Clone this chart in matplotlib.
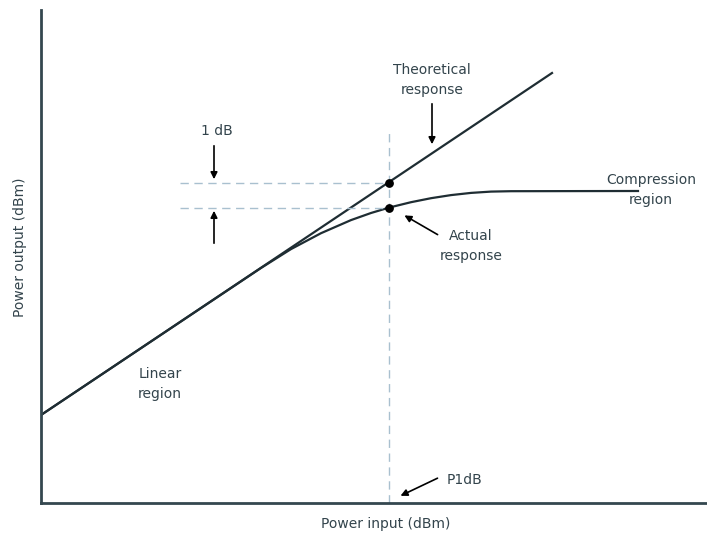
import matplotlib
matplotlib.use("Agg")
import matplotlib.pyplot as plt

# chart units: x = input power, y = output power (arbitrary)
theory_x = [0, 511]
theory_y = [88, 430]
actual_x = [0, 220, 250, 280, 310, 330, 348, 370, 390, 410, 430, 450, 470, 597]
actual_y = [88, 235, 253.9, 269.8, 282.9, 290.0, 295.4, 300.8, 304.8, 307.9, 310.1, 311.4, 311.8, 312]
p1db_x = 348
dots_y = [320, 295]

ink = "#1f2d33"
txt = "#33444c"
dash = "#a9c0cf"

fig = plt.figure(figsize=(7.07, 5.34), dpi=100)
ax = fig.add_axes([41/707, 31/534, 666/707, 493/534])
ax.set_xlim(0, 666)
ax.set_ylim(0, 493)
ax.spines['top'].set_visible(False)
ax.spines['right'].set_visible(False)
for s in ['left', 'bottom']:
    ax.spines[s].set_color("#34474f")
    ax.spines[s].set_linewidth(2)
ax.set_xticks([])
ax.set_yticks([])

ax.plot(theory_x, theory_y, color=ink, lw=1.6)
ax.plot(actual_x, actual_y, color=ink, lw=1.6)

# dashed guides
ax.plot([p1db_x, p1db_x], [0, 375], color=dash, lw=1, ls=(0, (6, 4)))
for yy in dots_y:
    ax.plot([139, p1db_x], [yy, yy], color=dash, lw=1, ls=(0, (6, 4)))
ax.scatter([p1db_x, p1db_x], dots_y, s=28, color="black", zorder=5)

fs = 10
ap = dict(arrowstyle="-|>", color="black", lw=1.2, mutation_scale=10)
ax.text(391, 423, "Theoretical\nresponse", ha="center", va="center", fontsize=fs, color=txt, linespacing=1.5)
ax.annotate("", xy=(391, 356), xytext=(391, 402), arrowprops=ap)

ax.text(176, 372, "1 dB", ha="center", va="center", fontsize=fs, color=txt)
ax.annotate("", xy=(173, 321), xytext=(173, 360), arrowprops=ap)
ax.annotate("", xy=(173, 295), xytext=(173, 257), arrowprops=ap)

ax.text(430, 257, "Actual\nresponse", ha="center", va="center", fontsize=fs, color=txt, linespacing=1.5)
ax.annotate("", xy=(361, 289), xytext=(399, 267), arrowprops=ap)

ax.text(610, 313, "Compression\nregion", ha="center", va="center", fontsize=fs, color=txt, linespacing=1.5)
ax.text(119, 119, "Linear\nregion", ha="center", va="center", fontsize=fs, color=txt, linespacing=1.5)

ax.text(424, 23, "P1dB", ha="center", va="center", fontsize=fs, color=txt)
ax.annotate("", xy=(357, 6), xytext=(399, 26), arrowprops=ap)

fig.text(386/707, 1 - 524/534, "Power input (dBm)", ha="center", va="center", fontsize=fs, color=txt)
fig.text(20/707, 1 - 247/534, "Power output (dBm)", ha="center", va="center", rotation=90, fontsize=fs, color=txt)

fig.savefig("out.png", dpi=100)
